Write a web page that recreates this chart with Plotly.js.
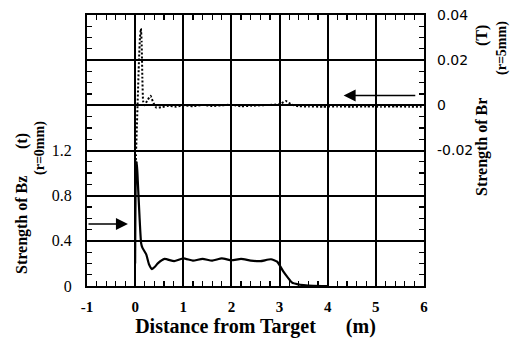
<!DOCTYPE html>
<html>
<head>
<meta charset="utf-8">
<script src="https://cdn.plot.ly/plotly-3.0.1.min.js"></script>
<style>html,body{margin:0;padding:0;background:#fff;}#chart{width:520px;height:339px;}</style>
</head>
<body>
<div id="chart"></div>
<script>
// Bz (r=0mm), left axis (t)
const bzX = [0.0, 0.015, 0.035, 0.056, 0.09, 0.124, 0.15, 0.23, 0.29, 0.35, 0.41, 0.47, 0.61, 0.81, 1.0, 1.2, 1.4, 1.6, 1.8, 2.0, 2.2, 2.4, 2.6, 2.82, 2.95, 3.08, 3.18, 3.26, 3.38, 3.5, 3.7, 4.0];
const bzY = [0.2, 1.0, 1.1, 0.92, 0.62, 0.38, 0.34, 0.28, 0.19, 0.15, 0.17, 0.2, 0.24, 0.22, 0.245, 0.225, 0.24, 0.225, 0.245, 0.228, 0.24, 0.225, 0.22, 0.237, 0.216, 0.127, 0.07, 0.03, 0.015, 0.008, 0.002, 0.0];
// Br (r=5mm), right axis (T)
const brX = [0.0, 0.02, 0.05, 0.08, 0.1, 0.12, 0.135, 0.15, 0.165, 0.19, 0.25, 0.32, 0.38, 0.44, 0.55, 0.7, 0.85, 1.0, 1.2, 1.4, 1.6, 1.8, 2.0, 2.2, 2.4, 2.6, 2.8, 3.0, 3.13, 3.25, 3.4, 3.6, 3.9, 4.2, 4.5, 4.8, 5.1, 5.4, 5.7, 5.95];
const brY = [-0.035, -0.02, 0.0, 0.02, 0.03, 0.034, 0.028, 0.012, 0.002, 0.0, 0.002, 0.0042, 0.001, -0.001, -0.0008, -0.0002, -0.0006, 0.0, -0.0004, 0.0002, -0.0003, 0.0, 0.0003, -0.0004, -0.0002, 0.0, 0.0002, 0.0005, 0.0019, 0.0003, -0.0004, -0.0005, -0.0006, -0.0005, -0.0006, -0.0005, -0.0006, -0.0005, -0.0006, -0.0006];

const xTickVals = [-1, 0, 1, 2, 3, 4, 5, 6];
const xTickText = ['-1', '0', '1', '2', '3', '4', '5', '6'];
const yTickVals = [0, 0.4, 0.8, 1.2, 1.6, 2.0, 2.4];
const yTickText = ['0', '0.4', '0.8', '1.2', '', '', ''];
const y2TickVals = [-0.08, -0.06, -0.04, -0.02, 0, 0.02, 0.04];
const y2TickText = ['', '', '', '-0.02', '0', '0.02', '0.04'];

const L = 87, R = 424, T = 15, B = 286;
const px = v => (v - L) / (R - L);
const py = v => (B - v) / (B - T);

const serif = 'Liberation Serif';
const traces = [
  {x: bzX, y: bzY, type: 'scatter', mode: 'lines', name: 'Bz',
   line: {color: '#000', width: 2.2, shape: 'spline', smoothing: 0.5}, yaxis: 'y'},
  {x: brX, y: brY, type: 'scatter', mode: 'lines', name: 'Br',
   line: {color: '#000', width: 2, dash: '2px,2px', shape: 'spline', smoothing: 0.4}, yaxis: 'y2'}
];

const annTxt = (text, x, y, size, extra) => Object.assign({
  text: text, xref: 'paper', yref: 'paper', x: px(x), y: py(y),
  xanchor: 'center', yanchor: 'middle', showarrow: false, textangle: -90,
  font: {family: serif, size: size, color: '#000', weight: 'bold'}
}, extra || {});

const layout = {
  width: 520, height: 339,
  margin: {l: L, r: 520 - R, t: T, b: 339 - B},
  paper_bgcolor: '#fff', plot_bgcolor: '#fff',
  showlegend: false,
  xaxis: {
    range: [-1, 6], tickvals: xTickVals, ticktext: xTickText, ticks: 'inside', ticklen: 5, tickwidth: 1.2, tickcolor: '#000',
    showgrid: true, gridcolor: '#000', gridwidth: 2, zeroline: false,
    showline: true, linecolor: '#000', linewidth: 2, mirror: 'allticks',
    minor: {dtick: 0.2, ticks: 'inside', ticklen: 5, tickcolor: '#000', tickwidth: 1.2, showgrid: false},
    tickfont: {family: serif, size: 15, color: '#000', weight: 'bold'}, ticklabelstandoff: 6,
    title: {text: 'Distance from Target\u00a0\u00a0\u00a0\u00a0\u00a0\u00a0(m)', standoff: 2,
            font: {family: serif, size: 20, color: '#000', weight: 'bold'}},
    automargin: false, fixedrange: true
  },
  yaxis: {
    range: [0, 2.4], tickvals: yTickVals, ticktext: yTickText, ticks: 'inside', ticklen: 5, tickwidth: 1.2, tickcolor: '#000',
    showgrid: true, gridcolor: '#000', gridwidth: 2, zeroline: false,
    showline: true, linecolor: '#000', linewidth: 2, mirror: 'allticks',
    minor: {dtick: 0.1, ticks: 'inside', ticklen: 5, tickcolor: '#000', tickwidth: 1.2, showgrid: false},
    tickfont: {family: serif, size: 16, color: '#000'}, ticklabelstandoff: 10,
    automargin: false, fixedrange: true
  },
  yaxis2: {
    overlaying: 'y', side: 'right', range: [-0.08, 0.04], tickvals: y2TickVals, ticktext: y2TickText,
    ticks: '', showgrid: false, zeroline: false, showline: false,
    tickfont: {family: 'DejaVu Sans', size: 14, color: '#000'}, ticklabelstandoff: 12,
    automargin: false, fixedrange: true
  },
  annotations: [
    annTxt('Strength of Bz', 22, 225, 16),
    annTxt('(t)', 22, 141, 16),
    annTxt('(r=0mm)', 40, 148, 14),
    annTxt('Strength of Br', 482, 147, 16),
    annTxt('(T)', 482, 36, 16),
    annTxt('(r=5mm)', 502, 48, 14),
    {xref: 'x', yref: 'y', axref: 'x', ayref: 'y', x: -0.15, y: 0.55, ax: -1, ay: 0.55,
     text: '', showarrow: true, arrowhead: 2, arrowsize: 1.6, arrowwidth: 1.5, arrowcolor: '#000'},
    {xref: 'x', yref: 'y2', axref: 'x', ayref: 'y2', x: 4.33, y: 0.0044, ax: 5.85, ay: 0.0044,
     text: '', showarrow: true, arrowhead: 2, arrowsize: 1.6, arrowwidth: 1.5, arrowcolor: '#000'}
  ]
};

Plotly.newPlot('chart', traces, layout, {staticPlot: true, displayModeBar: false});
</script>
</body>
</html>
